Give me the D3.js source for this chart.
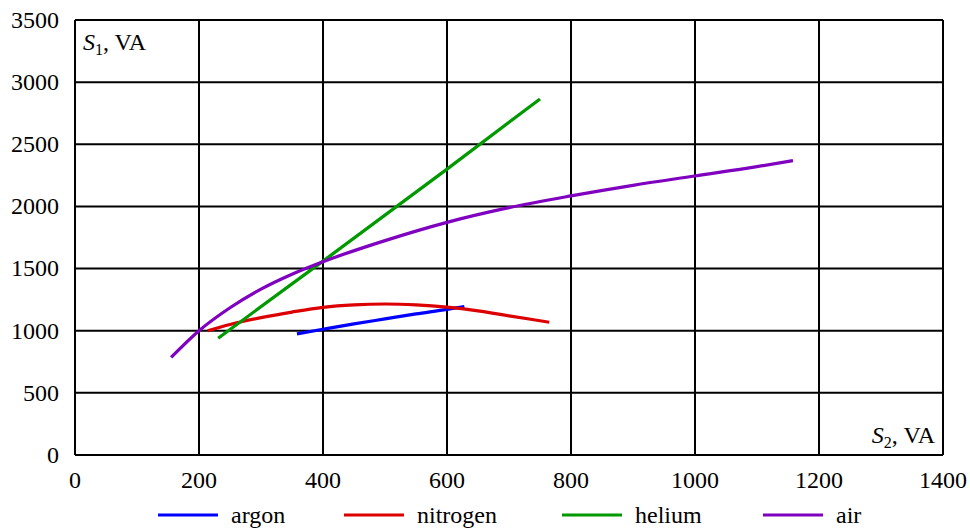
<!DOCTYPE html>
<html>
<head>
<meta charset="utf-8">
<script src="https://cdn.jsdelivr.net/npm/d3@7"></script>
<style>
  body { margin: 0; background: #fff; }
  svg { font-family: 'Liberation Serif', serif; }
</style>
</head>
<body>
<div id="chart"></div>
<script>
// S1 vs S2 for different gases
const xTicks = [0, 200, 400, 600, 800, 1000, 1200, 1400];
const yTicks = [0, 500, 1000, 1500, 2000, 2500, 3000, 3500];

const argon = [[358, 975], [400, 1012], [450, 1055], [500, 1095], [550, 1135], [600, 1172], [628, 1195]];
const nitrogen = [[214, 1000], [250, 1050], [300, 1105], [350, 1150], [400, 1188], [450, 1208], [500, 1215],
  [550, 1208], [600, 1190], [650, 1160], [700, 1120], [765, 1068]];
const helium = [[231, 940], [400, 1560], [600, 2300], [750, 2865]];
const air = [[155, 785], [200, 1000], [250, 1185], [300, 1335], [350, 1455], [400, 1555], [500, 1725],
  [600, 1872], [700, 1990], [800, 2085], [900, 2170], [1000, 2245], [1100, 2320], [1158, 2368]];

const seriesNames = ['argon', 'nitrogen', 'helium', 'air'];
const seriesData = [argon, nitrogen, helium, air];
const colors = ['#0000ff', '#dd0000', '#009900', '#8000c0'];

const width = 970, height = 529;
const margin = {top: 20, right: 27, bottom: 74, left: 75};
const fs = '24px';

const x = d3.scaleLinear().domain([0, 1400]).range([margin.left, width - margin.right]);
const y = d3.scaleLinear().domain([0, 3500]).range([height - margin.bottom, margin.top]);

const svg = d3.select('#chart').append('svg')
  .attr('width', width)
  .attr('height', height);

// grid
const grid = svg.append('g').attr('stroke', '#000').attr('stroke-width', 2);
grid.selectAll('line.v')
  .data(xTicks)
  .enter().append('line')
  .attr('x1', d => x(d)).attr('x2', d => x(d))
  .attr('y1', y(0)).attr('y2', y(3500));
grid.selectAll('line.h')
  .data(yTicks)
  .enter().append('line')
  .attr('class', 'h')
  .attr('x1', x(0)).attr('x2', x(1400))
  .attr('y1', d => y(d)).attr('y2', d => y(d));

// tick labels
svg.append('g').selectAll('text')
  .data(yTicks)
  .enter().append('text')
  .attr('x', x(0) - 16)
  .attr('y', d => y(d))
  .attr('dy', '0.33em')
  .attr('text-anchor', 'end')
  .style('font-size', fs)
  .text(d => d);

svg.append('g').selectAll('text')
  .data(xTicks)
  .enter().append('text')
  .attr('x', d => x(d))
  .attr('y', y(0) + 33)
  .attr('text-anchor', 'middle')
  .style('font-size', fs)
  .text(d => d);

// axis titles
const t1 = svg.append('text')
  .attr('x', x(0) + 8)
  .attr('y', y(3500) + 30)
  .style('font-size', fs);
t1.append('tspan').style('font-style', 'italic').text('S');
t1.append('tspan').attr('dy', 5).style('font-size', '16px').text('1');
t1.append('tspan').attr('dy', -5).text(', VA');

const t2 = svg.append('text')
  .attr('x', x(1400) - 8)
  .attr('y', y(0) - 12)
  .attr('text-anchor', 'end')
  .style('font-size', fs);
t2.append('tspan').style('font-style', 'italic').text('S');
t2.append('tspan').attr('dy', 5).style('font-size', '16px').text('2');
t2.append('tspan').attr('dy', -5).text(', VA');

// curves
const line = d3.line()
  .x(d => x(d[0]))
  .y(d => y(d[1]))
  .curve(d3.curveMonotoneX);

svg.append('g').selectAll('path')
  .data(seriesData)
  .enter().append('path')
  .attr('fill', 'none')
  .attr('stroke', (d, i) => colors[i])
  .attr('stroke-width', 3.2)
  .attr('d', line);

// legend
const legendX = [158, 344, 562, 763];
const legend = svg.append('g').selectAll('g')
  .data(seriesNames)
  .enter().append('g')
  .attr('transform', (d, i) => `translate(${legendX[i]}, 515)`);
legend.append('line')
  .attr('x1', 0).attr('x2', 60)
  .attr('stroke', (d, i) => colors[i])
  .attr('stroke-width', 3.2);
legend.append('text')
  .attr('x', 73)
  .attr('dy', '0.32em')
  .style('font-size', fs)
  .text(d => d);
</script>
</body>
</html>
